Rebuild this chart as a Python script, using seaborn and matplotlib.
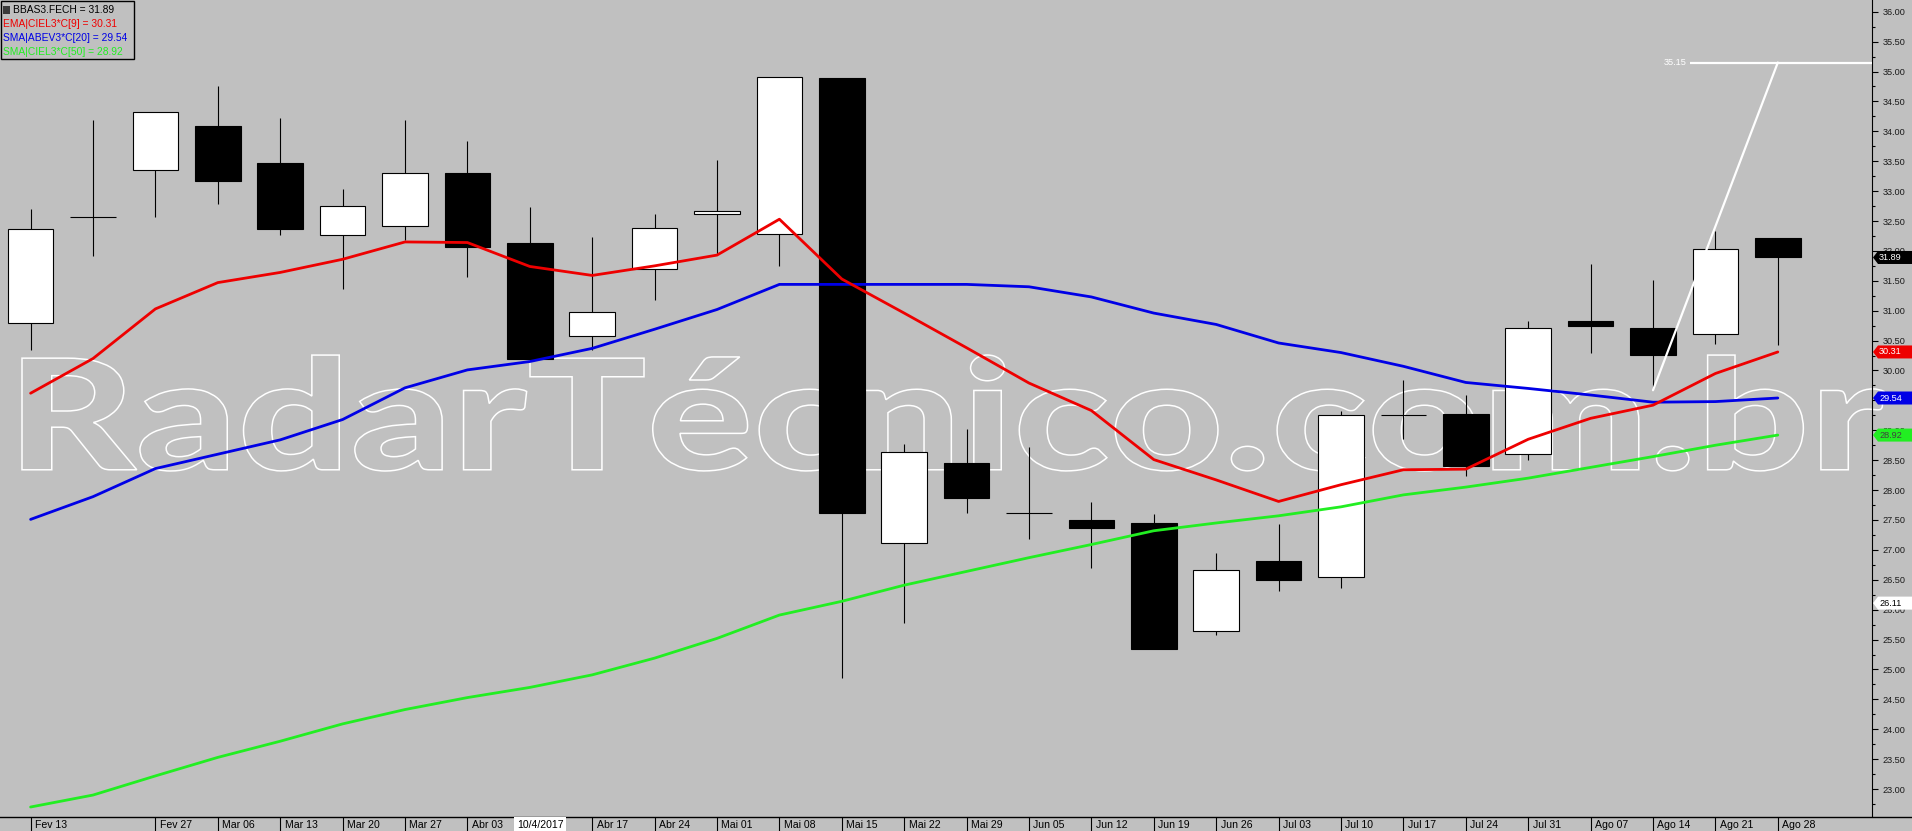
import numpy as np
import pandas as pd
import seaborn as sns
import matplotlib
matplotlib.use('Agg')
from matplotlib import pyplot as plt
from matplotlib.patches import Rectangle, Polygon, PathPatch
from matplotlib.textpath import TextPath
from matplotlib.font_manager import FontProperties
from matplotlib.ticker import MultipleLocator, FormatStrFormatter
import matplotlib.transforms as mtransforms

# weekly candles BBAS3, Fev 13 .. Ago 28 2017
week_labels = ['Fev 13', '', 'Fev 27', 'Mar 06', 'Mar 13', 'Mar 20', 'Mar 27', 'Abr 03',
               '10/4/2017', 'Abr 17', 'Abr 24', 'Mai 01', 'Mai 08', 'Mai 15', 'Mai 22',
               'Mai 29', 'Jun 05', 'Jun 12', 'Jun 19', 'Jun 26', 'Jul 03', 'Jul 10',
               'Jul 17', 'Jul 24', 'Jul 31', 'Ago 07', 'Ago 14', 'Ago 21', 'Ago 28']
opens = [30.79, 32.56, 33.35, 34.09, 33.47, 32.26, 32.41, 33.30, 32.13, 30.57,
         31.69, 32.62, 32.28, 34.89, 27.11, 28.45, 27.61, 27.50, 27.45, 25.65,
         26.81, 26.54, 29.25, 29.27, 28.60, 30.83, 30.71, 30.61, 32.22]
highs = [32.70, 34.19, 34.33, 34.75, 34.22, 33.04, 34.19, 33.84, 32.73, 32.23,
         32.62, 33.52, 34.90, 34.89, 28.77, 29.03, 28.72, 27.80, 27.60, 26.95,
         27.43, 29.32, 29.84, 29.59, 30.83, 31.78, 31.51, 32.33, 32.22]
lows = [30.35, 31.92, 32.56, 32.79, 32.27, 31.37, 32.18, 31.57, 30.20, 30.34,
        31.18, 31.93, 31.74, 24.85, 25.78, 27.61, 27.19, 26.70, 25.35, 25.58,
        26.32, 26.37, 28.86, 28.24, 28.50, 30.29, 29.70, 30.45, 30.43]
closes = [32.36, 32.56, 34.33, 33.17, 32.37, 32.75, 33.31, 32.07, 30.20, 30.97,
          32.39, 32.67, 34.90, 27.61, 28.63, 27.87, 27.61, 27.37, 25.35, 26.66,
          26.49, 29.25, 29.25, 28.41, 30.71, 30.75, 30.26, 32.03, 31.89]

ema9 = [29.62, 30.20, 31.03, 31.47, 31.64, 31.86, 32.15, 32.14, 31.74, 31.59,
        31.75, 31.93, 32.53, 31.53, 30.96, 30.38, 29.79, 29.33, 28.51, 28.17,
        27.81, 28.09, 28.34, 28.35, 28.85, 29.20, 29.42, 29.95, 30.31]
sma20 = [27.51, 27.89, 28.36, 28.60, 28.84, 29.18, 29.71, 30.01, 30.15, 30.37,
         30.69, 31.02, 31.44, 31.44, 31.44, 31.44, 31.40, 31.23, 30.96, 30.77,
         30.46, 30.30, 30.07, 29.80, 29.70, 29.59, 29.47, 29.48, 29.54]
sma50 = [22.70, 22.90, 23.22, 23.53, 23.80, 24.09, 24.33, 24.53, 24.70, 24.91,
         25.19, 25.52, 25.91, 26.14, 26.41, 26.64, 26.87, 27.09, 27.32, 27.45,
         27.57, 27.72, 27.92, 28.05, 28.20, 28.38, 28.56, 28.75, 28.92]

trend_x = [26, 28]
trend_y = [29.67, 35.15]
target_price = 35.15
target_start = 26.59
cursor_price = 26.11
cursor_week = 8

series_names = ['BBAS3.FECH', 'EMA|CIEL3*C[9]', 'SMA|ABEV3*C[20]', 'SMA|CIEL3*C[50]']
watermark = 'RadarTécnico.com.br'

# layout (pixels)
W, H = 1912, 831
PLOT_W, PLOT_H, STRIP_H = 1872, 817, 14
X0, STEP = 30.6, 62.4
BG = '#c0c0c0'
RED, BLUE, GREEN = '#ee0000', '#0000e6', '#22ee22'

sns.set_theme(style='white', rc={'axes.facecolor': BG, 'figure.facecolor': BG})
plt.rcParams['font.family'] = ['Liberation Sans', 'DejaVu Sans']

df = pd.DataFrame({'open': opens, 'high': highs, 'low': lows, 'close': closes,
                   'ema9': ema9, 'sma20': sma20, 'sma50': sma50})
df['idx'] = np.arange(len(df))

fig = plt.figure(figsize=(W / 100, H / 100), dpi=100)
ax = fig.add_axes([0, STRIP_H / H, PLOT_W / W, PLOT_H / H])
ax.set_facecolor(BG)
xmin = -X0 / STEP
ax.set_xlim(xmin, xmin + PLOT_W / STEP)
ax.set_ylim(22.533, 36.196)

# watermark, outlined heavy text stretched to the box it fills in the picture
tp = TextPath((0, 0), watermark, size=100, prop=FontProperties(family='Lato', weight=900))
ext = tp.get_extents()
bx0, bx1, by0, by1 = 22, 1884, H - 471, H - 355
tr = mtransforms.Affine2D().translate(-ext.x0, -ext.y0).scale((bx1 - bx0) / ext.width, (by1 - by0) / ext.height).translate(bx0, by0)
ax.add_artist(PathPatch(tp, transform=tr, fc='none', ec='white', lw=1.1, zorder=1, clip_on=False))

# candles
body_lo = df[['open', 'close']].min(axis=1)
body_h = (df['close'] - df['open']).abs()
colors = ['white' if c > o else 'black' for o, c in zip(df['open'], df['close'])]
ax.vlines(df['idx'], df['low'], df['high'], color='black', lw=0.8, zorder=2)
ax.bar(df['idx'], body_h, bottom=body_lo, width=0.73, color=colors,
       edgecolor='black', linewidth=0.8, zorder=3)

# moving averages
sns.lineplot(x=df['idx'], y=df['sma50'], color=GREEN, lw=2.0, ax=ax, zorder=4)
sns.lineplot(x=df['idx'], y=df['sma20'], color=BLUE, lw=2.0, ax=ax, zorder=4)
sns.lineplot(x=df['idx'], y=df['ema9'], color=RED, lw=2.0, ax=ax, zorder=4)

# trend line and target
ax.plot(trend_x, trend_y, color='white', lw=1.6, zorder=5)
ax.hlines(target_price, target_start, ax.get_xlim()[1], color='white', lw=1.6, zorder=5)
ax.text(target_start - 0.05, target_price, f'{target_price:.2f}', color='white',
        fontsize=6.6, ha='right', va='center', zorder=5)

ax.set_xlabel('')
ax.set_ylabel('')
ax.set_xticks([])
ax.yaxis.tick_right()
ax.yaxis.set_major_locator(MultipleLocator(0.5))
ax.yaxis.set_minor_locator(MultipleLocator(0.25))
ax.yaxis.set_major_formatter(FormatStrFormatter('%.2f'))
ax.tick_params(axis='y', which='major', right=True, length=4.3, width=0.8, color='black',
               pad=3.6, labelsize=6.6, labelcolor='#1a1a1a')
ax.tick_params(axis='y', which='minor', right=True, length=2.2, width=0.8, color='black')
for s in ['left', 'top', 'bottom']:
    ax.spines[s].set_visible(False)
ax.spines['right'].set_color('black')
ax.spines['right'].set_linewidth(0.8)

# price tags on the right axis (they sit on top of the tick labels, as in the platform)
ppx = 1 / PLOT_W
hy = 6.5 * (ax.get_ylim()[1] - ax.get_ylim()[0]) / PLOT_H
ytr = ax.get_yaxis_transform()
def price_tag(v, fc, tc):
    pts = [(1.0 + ppx, v), (1 + 6 * ppx, v + hy), (1 + 40 * ppx, v + hy),
           (1 + 40 * ppx, v - hy), (1 + 6 * ppx, v - hy)]
    ax.add_patch(Polygon(pts, closed=True, transform=ytr, fc=fc, ec='none', clip_on=False, zorder=6))
    ax.text(1 + 7 * ppx, v, f'{v:.2f}', transform=ytr, color=tc, fontsize=6.6,
            ha='left', va='center', clip_on=False, zorder=7)

price_tag(cursor_price, 'white', 'black')
price_tag(sma50[-1], GREEN, '#404040')
price_tag(sma20[-1], BLUE, 'white')
price_tag(ema9[-1], RED, 'white')
price_tag(closes[-1], 'black', 'white')

# date strip
ax2 = fig.add_axes([0, 0, 1, STRIP_H / H])
ax2.set_facecolor(BG)
ax2.set_xlim(xmin, xmin + W / STEP)
ax2.set_ylim(0, 1)
ax2.set_xticks([])
ax2.set_yticks([])
for s in ['left', 'right', 'bottom']:
    ax2.spines[s].set_visible(False)
ax2.spines['top'].set_color('black')
ax2.spines['top'].set_linewidth(1.0)
for i, lab in enumerate(week_labels):
    if not lab:
        continue
    if i == cursor_week:
        ax2.text(i + 0.17, 0.45, lab, fontsize=7.6, ha='center', va='center', color='black',
                 bbox=dict(boxstyle='square,pad=0.25', fc='white', ec='none'))
        continue
    ax2.vlines(i, 0, 1, color='black', lw=0.8)
    ax2.text(i + 0.07, 0.45, lab, fontsize=7.6, ha='left', va='center', color='black')

# legend box
fig.add_artist(Rectangle((0.5 / W, 1 - 59 / H), 133 / W, 58.5 / H, transform=fig.transFigure,
                         fc=BG, ec='black', lw=1.0, zorder=10))
fig.add_artist(Rectangle((3 / W, 1 - 14 / H), 7 / W, 8 / H, transform=fig.transFigure,
                         fc='#3a3a3a', ec='none', zorder=11))
legend_vals = [closes[-1], ema9[-1], sma20[-1], sma50[-1]]
legend_cols = ['black', RED, BLUE, GREEN]
legend_x = [13, 3, 3, 3]
for k, (name, val, col) in enumerate(zip(series_names, legend_vals, legend_cols)):
    fig.text(legend_x[k] / W, 1 - (10 + 14 * k) / H, f'{name} = {val:.2f}', color=col,
             fontsize=7.4, ha='left', va='center', zorder=11)

fig.savefig('out.png', dpi=100, facecolor=BG)
